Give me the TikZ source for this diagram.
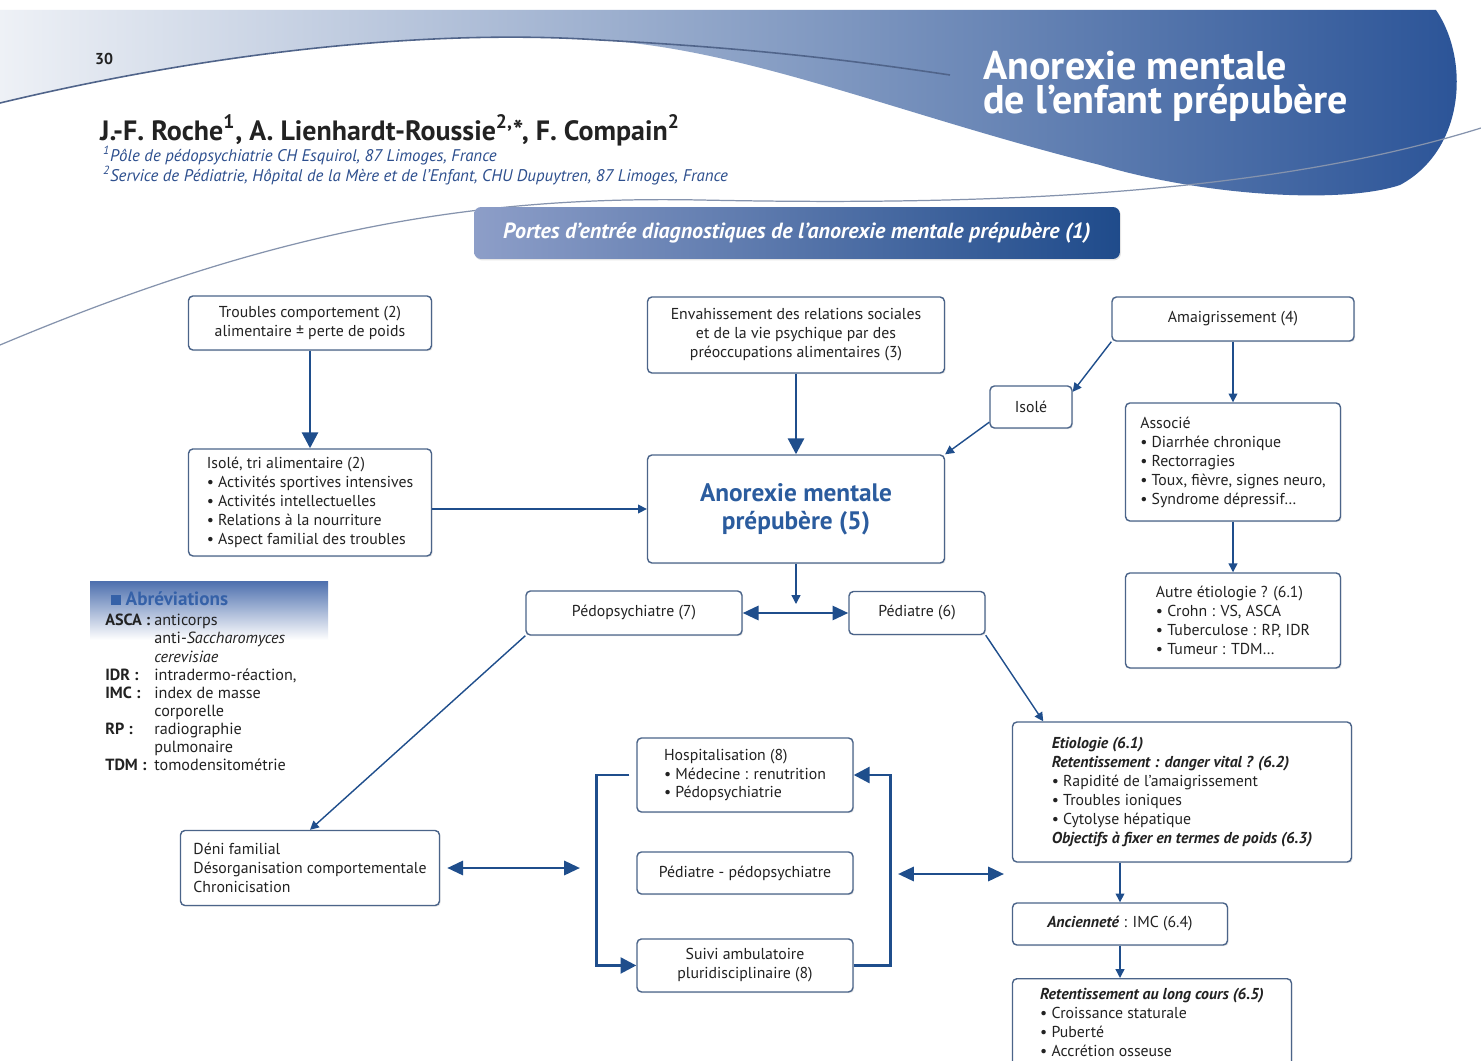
\documentclass[tikz,border=0pt]{standalone}
\usepackage{fontspec}
\setmainfont{PT Sans}
\usetikzlibrary{arrows.meta,positioning,shadows}

\definecolor{arrowblue}{HTML}{1F4E8C}
\definecolor{boxline}{HTML}{4B6489}
\definecolor{textgray}{HTML}{222222}
\definecolor{titleblue}{HTML}{2B5C9E}
\definecolor{headlight}{HTML}{EEF1F6}
\definecolor{headmid}{HTML}{9FAFD0}
\definecolor{headdark}{HTML}{2A5397}
\definecolor{bannerlight}{HTML}{8D9EC8}
\definecolor{bannerdark}{HTML}{1F4B8B}
\definecolor{affblue}{HTML}{2D4F8E}
\definecolor{abbrtop}{HTML}{4D6FAE}
\definecolor{abbrblue}{HTML}{3561A8}
\definecolor{swoosh}{HTML}{50648A}

\begin{document}
\begin{tikzpicture}[x=0.02cm,y=-0.02cm,>={Triangle[length=5pt,width=5pt]},
    box/.style={draw=boxline,line width=0.8pt,rounded corners=2.5pt,fill=white,inner sep=0pt,align=center,text=textgray,font=\fontsize{9}{10.8}\selectfont,drop shadow={shadow xshift=0.7pt,shadow yshift=-0.7pt,opacity=0.18}},
    lbox/.style={box,align=left},
    thin arrow/.style={->,draw=arrowblue,line width=0.8pt},
    big arrow/.style={-{Triangle[length=9pt,width=9pt]},draw=arrowblue,line width=1.6pt},
    both arrow/.style={{Triangle[length=9pt,width=8pt]}-{Triangle[length=9pt,width=8pt]},draw=arrowblue,line width=1.6pt},
    ttl/.style={anchor=base west,inner sep=0pt,text=white,font=\bfseries\fontsize{22.8}{19}\selectfont}]

    \useasboundingbox (0,0) rectangle (1481,1061);
    \fill[white] (0,0) rectangle (1481,1061);

    % header
    \shade[left color=headlight,middle color=headmid,right color=headdark]
        (0,10) -- (1436,10) .. controls (1470,60) and (1465,150) .. (1400,185)
        .. controls (1340,205) and (1200,195) .. (1100,165)
        .. controls (900,115) and (750,50) .. (600,40)
        .. controls (420,28) and (200,55) .. (0,103) -- cycle;
    \draw[swoosh,line width=0.9pt] (0,103) .. controls (200,55) and (420,28) .. (600,40)
        .. controls (750,48) and (850,60) .. (950,75);
    \draw[swoosh!70,line width=0.7pt] (0,345) .. controls (250,240) and (450,195) .. (700,200)
        .. controls (950,205) and (1250,200) .. (1481,128);

    \node[anchor=base west,font=\bfseries\fontsize{9}{10}\selectfont,text=textgray] (pg) at (89,65) {30};
    \node[ttl] (ttl1) at (983,80) {Anorexie mentale};
    \node[ttl] (ttl2) at (983,113) {de l’enfant prépubère};
    \node[anchor=base west,font=\bfseries\fontsize{15.9}{18}\selectfont,text=textgray] (aut) at (94,140)
        {J.-F. Roche\textsuperscript{1}, A. Lienhardt-Roussie\textsuperscript{2,}*, F. Compain\textsuperscript{2}};
    \node[anchor=base west,align=left,text=affblue,font=\itshape\fontsize{9.6}{11.3}\selectfont] (aff) at (97,181)
        {\textsuperscript{1}Pôle de pédopsychiatrie CH Esquirol, 87 Limoges, France\\
         \textsuperscript{2}Service de Pédiatrie, Hôpital de la Mère et de l’Enfant, CHU Dupuytren, 87 Limoges, France};

    \node[rounded corners=4pt,minimum width=12.92cm,minimum height=1.04cm,left color=bannerlight,right color=bannerdark,
          text=white,font=\bfseries\itshape\fontsize{12.5}{14}\selectfont,drop shadow={opacity=0.2,shadow xshift=0.6pt,shadow yshift=-0.8pt}] (ban) at (797,233)
        {Portes d’entrée diagnostiques de l’anorexie mentale prépubère (1)};

    % abbreviations
    \shade[top color=abbrtop,bottom color=white] (90,581) rectangle (328,640);
    \node[anchor=base west,font=\bfseries\fontsize{10.9}{12}\selectfont,text=abbrblue] (abr) at (105,605) {\rule{5.5pt}{5.5pt}~Abréviations};
    \node[anchor=north west,align=left,inner sep=0pt,text=textgray,font=\fontsize{9.2}{10.3}\selectfont] (abl) at (105,614)
        {\makebox[0.98cm][l]{\textbf{ASCA :}}anticorps\\
         \hspace*{0.98cm}anti-\textit{Saccharomyces}\\
         \hspace*{0.98cm}\textit{cerevisiae}\\
         \makebox[0.98cm][l]{\textbf{IDR :}}intradermo-réaction,\\
         \makebox[0.98cm][l]{\textbf{IMC :}}index de masse\\
         \hspace*{0.98cm}corporelle\\
         \makebox[0.98cm][l]{\textbf{RP :}}radiographie\\
         \hspace*{0.98cm}pulmonaire\\
         \makebox[0.98cm][l]{\textbf{TDM :}}tomodensitométrie};

    % boxes
    \node[box,minimum width=4.86cm,minimum height=1.08cm] (1) at (310,323) {Troubles comportement (2)\\alimentaire ± perte de poids};
    \node[box,minimum width=5.94cm,minimum height=1.52cm] (2) at (796,335) {Envahissement des relations sociales\\et de la vie psychique par des\\préoccupations alimentaires (3)};
    \node[box,minimum width=4.84cm,minimum height=0.88cm] (3) at (1233,319) {Amaigrissement (4)};
    \node[box,minimum width=1.64cm,minimum height=0.84cm] (4) at (1031,407) {Isolé};
    \node[lbox,minimum width=4.3cm,minimum height=2.36cm] (5) at (1233,462)
        {Associé\\\textbullet{} Diarrhée chronique\\\textbullet{} Rectorragies\\\textbullet{} Toux, fièvre, signes neuro,\\\textbullet{} Syndrome dépressif…};
    \node[lbox,minimum width=4.3cm,minimum height=1.9cm,below of=5,node distance=3.17cm] (6)
        {Autre étiologie ? (6.1)\\\textbullet{} Crohn : VS, ASCA\\\textbullet{} Tuberculose : RP, IDR\\\textbullet{} Tumeur : TDM…};
    \node[lbox,minimum width=4.86cm,minimum height=2.14cm,below of=1,node distance=3.59cm] (7)
        {Isolé, tri alimentaire (2)\\\textbullet{} Activités sportives intensives\\\textbullet{} Activités intellectuelles\\\textbullet{} Relations à la nourriture\\\textbullet{} Aspect familial des troubles};
    \node[box,minimum width=5.94cm,minimum height=2.16cm,text=titleblue,font=\bfseries\fontsize{14.4}{15.9}\selectfont] (8) at (796,509) {Anorexie mentale\\prépubère (5)};
    \node[box,minimum width=4.32cm,minimum height=0.88cm] (9) at (634,613) {Pédopsychiatre (7)};
    \node[box,minimum width=2.72cm,minimum height=0.86cm] (10) at (917,613) {Pédiatre (6)};
    \node[lbox,minimum width=6.78cm,minimum height=2.8cm] (11) at (1182,792)
        {\textbf{\textit{Etiologie (6.1)}}\\\textbf{\textit{Retentissement : danger vital ? (6.2)}}\\\textbullet{} Rapidité de l’amaigrissement\\\textbullet{} Troubles ioniques\\\textbullet{} Cytolyse hépatique\\\textbf{\textit{Objectifs à fixer en termes de poids (6.3)}}};
    \node[box,minimum width=4.3cm,minimum height=0.84cm] (12) at (1120,924) {\textbf{\textit{Ancienneté}} : IMC (6.4)};
    \node[lbox,minimum width=5.58cm,minimum height=1.76cm,anchor=north] (13) at (1152,978)
        {\textbf{\textit{Retentissement au long cours (6.5)}}\\\textbullet{} Croissance staturale\\\textbullet{} Puberté\\\textbullet{} Accrétion osseuse};
    \node[lbox,minimum width=5.18cm,minimum height=1.5cm] (14) at (310,868) {Déni familial\\Désorganisation comportementale\\Chronicisation};
    \node[lbox,minimum width=4.32cm,minimum height=1.48cm] (15) at (745,775) {Hospitalisation (8)\\\textbullet{} Médecine : renutrition\\\textbullet{} Pédopsychiatrie};
    \node[box,minimum width=4.32cm,minimum height=0.84cm,below of=15,node distance=1.96cm] (16) {Pédiatre - pédopsychiatre};
    \node[box,minimum width=4.32cm,minimum height=1.06cm,below of=16,node distance=1.85cm] (17) {Suivi ambulatoire\\pluridisciplinaire (8)};

    \coordinate (c1) at (796,604);
    \coordinate (c2) at (580,868);
    \coordinate (c3) at (898,874);
    \coordinate (c4) at (1004,874);

    % connectors
    \draw[big arrow] (1) -- (7);
    \draw[big arrow] (2) -- (8);
    \draw[thin arrow] (7.east |- 8) -- (8.west);
    \draw[thin arrow] (3.south west) -- (4.20);
    \draw[thin arrow] (4.200) -- (8.north east);
    \draw[thin arrow] (3) -- (5);
    \draw[thin arrow] (5) -- (6);
    \draw[thin arrow] (8) -- (c1);
    \draw[both arrow] (9) -- (10);
    \draw[thin arrow] (9.south west) -- (14.north);
    \draw[thin arrow] (10.south east) -- (11.153);
    \draw[both arrow,shorten <=4pt] (14) -- (c2);
    \draw[big arrow,shorten <=4pt] (15.west) -- ++(-40,0) |- (17.west);
    \draw[big arrow] (17.east) -- ++(37,0) |- (15.east);
    \draw[both arrow] (c3) -- (c4);
    \draw[thin arrow] (12.north |- 11.south) -- (12.north);
    \draw[thin arrow] (12.south) -- (12.south |- 13.north);
\end{tikzpicture}
\end{document}
